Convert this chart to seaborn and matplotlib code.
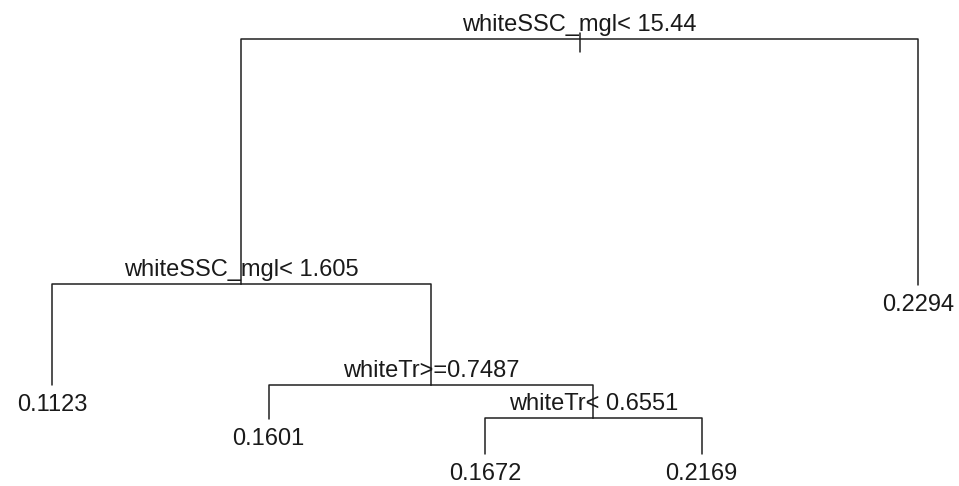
import matplotlib
matplotlib.use("Agg")
import matplotlib.pyplot as plt
import seaborn as sns
import pandas as pd

# ---- tree data (rpart-style numbering: children of n are 2n and 2n+1) ----
node_ids = [1, 2, 3, 4, 5, 10, 11, 22, 23]
node_labels = ["whiteSSC_mgl< 15.44", "whiteSSC_mgl< 1.605", "0.2294",
               "0.1123", "whiteTr>=0.7487", "0.1601", "whiteTr< 0.6551",
               "0.1672", "0.2169"]
# node heights on the (deviance-like) vertical scale of the plot
node_height = [447, 202, 201, 101, 101, 67, 68, 32, 32]

sns.set_theme(style="white")
plt.rcParams["font.family"] = ["Liberation Sans", "DejaVu Sans"]

ids = set(node_ids)
height = dict(zip(node_ids, node_height))
label = dict(zip(node_ids, node_labels))

def is_leaf(n):
    return (2 * n) not in ids

# leaf positions by in-order traversal, internal = midpoint of children
xpos = {}
counter = [0]
def layout(n):
    if is_leaf(n):
        counter[0] += 1
        xpos[n] = counter[0]
    else:
        layout(2 * n)
        layout(2 * n + 1)
        xpos[n] = (xpos[2 * n] + xpos[2 * n + 1]) / 2
layout(1)

rows = []
for n in node_ids:
    if n == 1:
        continue
    p = n // 2
    pts = [(xpos[n], height[n]), (xpos[n], height[p]), (xpos[p], height[p])]
    for k, (x, y) in enumerate(pts):
        rows.append({"seg": n, "order": k, "x": x, "y": y})
seg_df = pd.DataFrame(rows)

fig = plt.figure(figsize=(9.59, 4.86), dpi=100)
ax = fig.add_axes([0, 0, 1, 1])
sns.lineplot(data=seg_df, x="x", y="y", units="seg", estimator=None,
             sort=False, color="#202020", linewidth=1.1, ax=ax, legend=False)

# root direction tick
rx = xpos[1]
ry = height[1]
tick_df = pd.DataFrame({"x": [rx, rx], "y": [ry + 6, ry - 13]})
sns.lineplot(data=tick_df, x="x", y="y", estimator=None, sort=False,
             color="#202020", linewidth=1.1, ax=ax, legend=False)

for n in node_ids:
    if is_leaf(n):
        ax.text(xpos[n], height[n] - 9, label[n], ha="center", va="top",
                fontsize=17, color="#1a1a1a")
    else:
        ax.text(xpos[n], height[n] + 8, label[n], ha="center",
                va="baseline", fontsize=17, color="#1a1a1a")

# leaves spaced 216.5 px apart, first leaf at x = 52 px
ax.set_xlim(1 - 52 / 216.5, 1 + 907 / 216.5)
ax.set_ylim(0, 486)
ax.axis("off")
fig.savefig("out.png", dpi=100, facecolor="white")
